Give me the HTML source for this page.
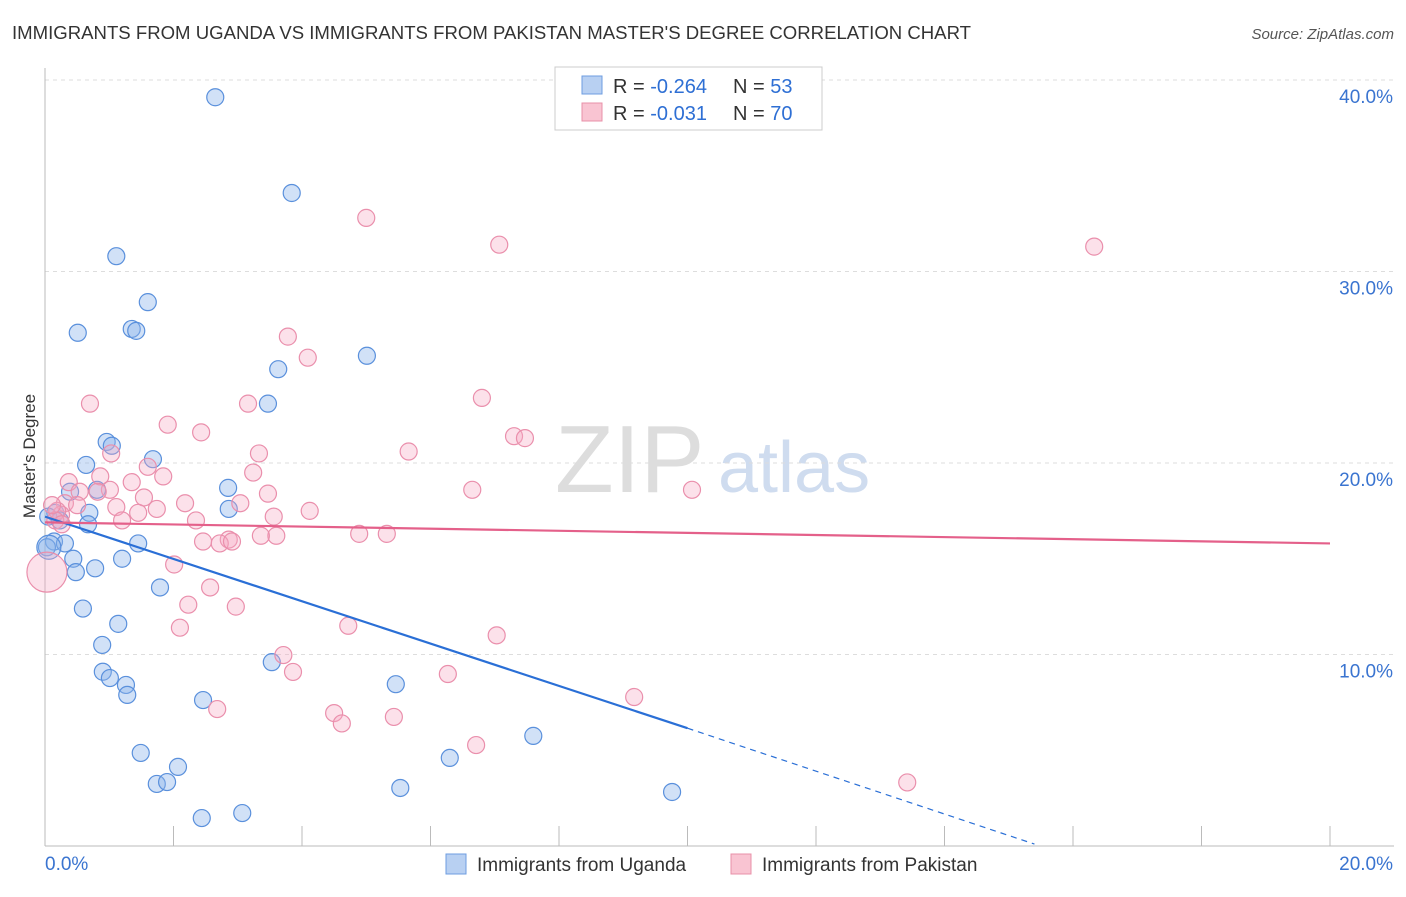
<!DOCTYPE html>
<html><head><meta charset="utf-8"><style>
body{margin:0;background:#fff;font-family:"Liberation Sans",sans-serif}
svg text{font-family:"Liberation Sans",sans-serif}
</style></head><body>
<svg id="c" width="1406" height="892">
<text x="12" y="39" font-size="18" fill="#333" textLength="959" lengthAdjust="spacingAndGlyphs">IMMIGRANTS FROM UGANDA VS IMMIGRANTS FROM PAKISTAN MASTER'S DEGREE CORRELATION CHART</text>
<text x="1394" y="39" font-size="15" fill="#555" font-style="italic" text-anchor="end">Source: ZipAtlas.com</text>
<text x="35" y="456" font-size="17" fill="#333" transform="rotate(-90 35 456)" text-anchor="middle">Master's Degree</text>
<text x="555" y="492" font-size="96" fill="#ddd" font-family="Liberation Serif">ZIP</text>
<text x="718" y="492" font-size="72" fill="#cfdcef">atlas</text>
<g id="grid"></g><g id="pts"></g><g id="lines"></g>
<g>
<rect x="555" y="67" width="267" height="63" fill="#fff" stroke="#ccc"/>
<rect x="582" y="76" width="20" height="18" fill="#b8d0f2" stroke="#6e9de0"/>
<rect x="582" y="103" width="20" height="18" fill="#f9c4d2" stroke="#e890a8"/>
<text x="613" y="93" font-size="20" fill="#333">R = <tspan fill="#2e6fd4">-0.264</tspan></text>
<text x="733" y="93" font-size="20" fill="#333">N = <tspan fill="#2e6fd4">53</tspan></text>
<text x="613" y="120" font-size="20" fill="#333">R = <tspan fill="#2e6fd4">-0.031</tspan></text>
<text x="733" y="120" font-size="20" fill="#333">N = <tspan fill="#2e6fd4">70</tspan></text>
</g>
<g>
<rect x="446" y="854" width="20" height="20" fill="#b8d0f2" stroke="#6e9de0"/>
<text x="477" y="871" font-size="19" fill="#333">Immigrants from Uganda</text>
<rect x="731" y="854" width="20" height="20" fill="#f9c4d2" stroke="#e890a8"/>
<text x="762" y="871" font-size="19" fill="#333">Immigrants from Pakistan</text>
</g>
</svg>
<script>
const xTicks=[0,2,4,6,8,10,12,14,16,18,20];
const yTicks=[10,20,30,40];
const ugX=[2.65,3.84,1.11,1.6,0.51,1.35,1.42,5.01,3.63,3.47,0.96,1.04,1.68,0.64,2.85,0.39,0.81,2.86,0.16,0.69,0.05,0.23,0.67,0.14,0.31,0.03,1.45,0.44,1.2,0.78,0.48,1.79,0.59,1.14,0.89,3.53,0.9,1.01,5.46,1.26,1.28,2.46,7.6,1.49,6.3,2.07,1.74,1.9,5.53,9.76,2.44,3.07,0.06];
const ugY=[39.1,34.1,30.8,28.4,26.8,27,26.9,25.6,24.9,23.1,21.1,20.9,20.2,19.9,18.7,18.5,18.6,17.6,17.4,17.4,17.2,17,16.8,15.9,15.8,15.6,15.8,15,15,14.5,14.3,13.5,12.4,11.6,10.5,9.6,9.1,8.77,8.45,8.41,7.89,7.62,5.75,4.86,4.6,4.13,3.24,3.34,3.03,2.82,1.46,1.72,15.6];
const pkX=[5,7.07,16.33,3.78,4.09,6.8,0.7,3.16,1.91,2.43,7.3,7.47,5.66,3.33,1.03,1.6,1.84,3.24,0.37,0.86,1.35,6.65,10.07,3.47,0.54,1.01,1.54,2.18,3.04,0.82,1.11,1.74,1.45,4.12,2.35,3.56,0.31,1.2,0.25,4.89,5.32,3.6,3.36,2.46,2.86,2.72,2.91,2.01,2.57,2.23,2.97,2.1,4.72,7.03,3.71,3.86,6.27,9.17,2.68,4.5,5.43,4.62,6.71,13.42,0.19,0.16,0.26,0.11,0.5,0.03];
const pkY=[32.8,31.4,31.3,26.6,25.5,23.4,23.1,23.1,22,21.6,21.4,21.3,20.6,20.5,20.5,19.8,19.3,19.5,19,19.3,19,18.6,18.6,18.4,18.5,18.6,18.2,17.9,17.9,18.5,17.7,17.6,17.4,17.5,17,17.2,17.9,17,17.3,16.3,16.3,16.2,16.2,15.9,16,15.8,15.9,14.7,13.5,12.6,12.5,11.4,11.5,11,9.97,9.09,8.98,7.78,7.15,6.94,6.74,6.4,5.27,3.32,17.5,17,16.8,17.8,17.8,14.3];
const ugLine={x0:0,y0:17.2,x1:10,y1:6.15,x2:15.4,y2:0.1};
const pkLine={x0:0,y0:16.9,x1:20,y1:15.8};
const X=v=>45+v*64.25, Y=v=>846-v*19.15;
const NS='http://www.w3.org/2000/svg';
function mk(t,a,p){const e=document.createElementNS(NS,t);for(const k in a)e.setAttribute(k,a[k]);p.appendChild(e);return e;}
const g=document.getElementById('grid');
yTicks.forEach(t=>{
 const l=mk('line',{x1:45,x2:1394,y1:Y(t),y2:Y(t),stroke:'#ddd','stroke-dasharray':'4 4'},g);
 
 
 const tx=mk('text',{x:1393,y:Y(t)+23,'font-size':19,fill:'#3a74d0','text-anchor':'end'},g);tx.textContent=t.toFixed(1)+'%';
 
 
});
const ax=mk('line',{x1:45,x2:1394,y1:846,y2:846,stroke:'#bbb'},g);


const ay=mk('line',{x1:45,x2:45,y1:68,y2:846,stroke:'#bbb'},g);


xTicks.forEach(t=>{const l=mk('line',{x1:X(t),x2:X(t),y1:826,y2:846,stroke:'#bbb'},g);
 
 });
[[0,'start'],[20,'end']].forEach(([t,a])=>{const tx=mk('text',{x:t?1393:45,y:870,'font-size':19,fill:'#3a74d0','text-anchor':a},g);tx.textContent=t.toFixed(1)+'%';
 
 });
const p=document.getElementById('pts');
ugX.forEach((x,i)=>{const c=mk('circle',{cx:X(x),cy:Y(ugY[i]),r:i==52?12:8.5,fill:'rgba(140,180,235,0.4)',stroke:'#5a90dc','stroke-width':1.2},p);
 
 });
pkX.forEach((x,i)=>{const c=mk('circle',{cx:X(x),cy:Y(pkY[i]),r:i==69?20:8.5,fill:'rgba(245,170,195,0.35)',stroke:'#ea8fac','stroke-width':1.2},p);
 
 });
const L=document.getElementById('lines');
let a=mk('line',{x1:X(ugLine.x0),y1:Y(ugLine.y0),x2:X(ugLine.x1),y2:Y(ugLine.y1),stroke:'#2a6fd6','stroke-width':2.2},L);


a=mk('line',{x1:X(ugLine.x1),y1:Y(ugLine.y1),x2:X(ugLine.x2),y2:Y(ugLine.y2),stroke:'#2a6fd6','stroke-width':1.2,'stroke-dasharray':'6 5'},L);


a=mk('line',{x1:X(pkLine.x0),y1:Y(pkLine.y0),x2:X(pkLine.x1),y2:Y(pkLine.y1),stroke:'#e4608a','stroke-width':2.2},L);


</script>
</body></html>
